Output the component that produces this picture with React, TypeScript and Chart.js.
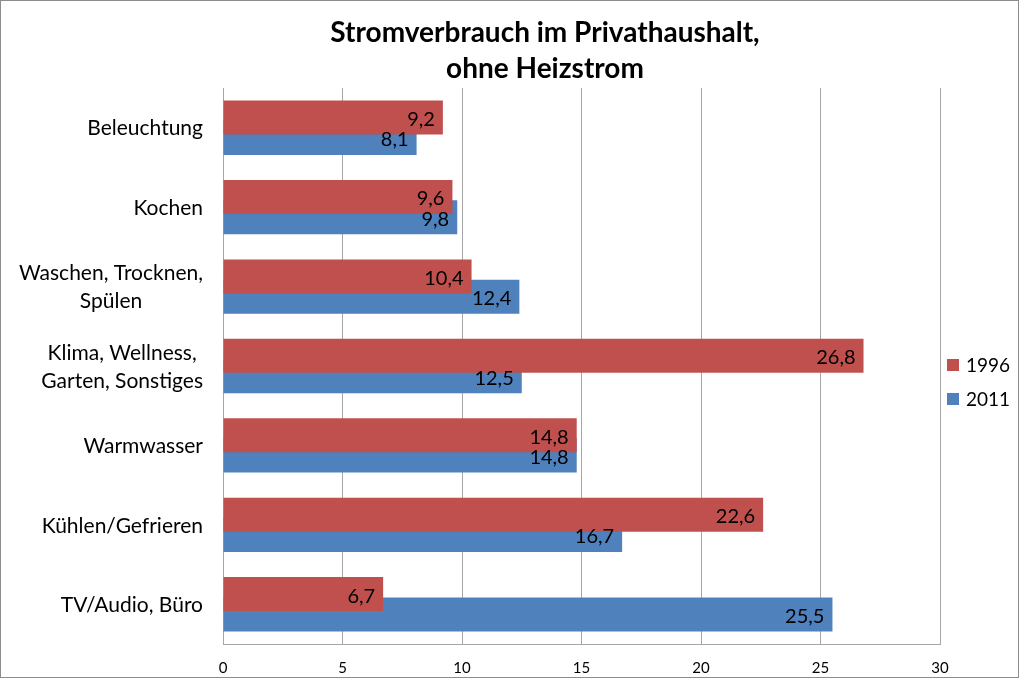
import { useEffect, useRef } from 'react';
import { Chart, registerables } from 'chart.js';
Chart.register(...registerables);

const categories: string[][] = [
  ['Beleuchtung'],
  ['Kochen'],
  ['Waschen, Trocknen,', 'Spülen'],
  ['Klima, Wellness,', 'Garten, Sonstiges'],
  ['Warmwasser'],
  ['Kühlen/Gefrieren'],
  ['TV/Audio, Büro'],
];
const values1996 = [9.2, 9.6, 10.4, 26.8, 14.8, 22.6, 6.7];
const values2011 = [8.1, 9.8, 12.4, 12.5, 14.8, 16.7, 25.5];
const seriesNames = ['1996', '2011'];
const seriesColors = ['#C0504D', '#4F81BD'];
const titleLines = ['Stromverbrauch im Privathaushalt,', 'ohne Heizstrom'];
const xMin = 0;
const xMax = 30;
const xStep = 5;

const FONT = 'Lato, "Noto Sans", sans-serif';
const OFFSET = 0.128;

const fmt = (v: number) => v.toFixed(1).replace('.', ',');

const customPlugin = {
  id: 'custom',
  beforeDraw(chart: any) {
    const ctx = chart.ctx;
    ctx.save();
    ctx.fillStyle = '#ffffff';
    ctx.fillRect(0, 0, chart.width, chart.height);
    ctx.strokeStyle = '#8c8c8c';
    ctx.lineWidth = 1;
    ctx.strokeRect(0.5, 0.5, 1018, 677);
    ctx.restore();
  },
  afterDatasetsDraw(chart: any) {
    const ctx = chart.ctx;
    ctx.save();
    ctx.font = `20px ${FONT}`;
    ctx.fillStyle = '#000';
    ctx.textAlign = 'right';
    ctx.textBaseline = 'middle';
    chart.data.datasets.forEach((ds: any, di: number) => {
      const meta = chart.getDatasetMeta(di);
      meta.data.forEach((el: any, i: number) => {
        ctx.fillText(fmt(ds.data[i].x), el.x - 8, el.y + 2);
      });
    });
    ctx.restore();
  },
  afterDraw(chart: any) {
    const ctx = chart.ctx;
    const yScale = chart.scales.y;
    ctx.save();
    // title
    ctx.fillStyle = '#000';
    ctx.font = `bold 28px ${FONT}`;
    ctx.textAlign = 'center';
    ctx.textBaseline = 'middle';
    titleLines.forEach((t, i) => ctx.fillText(t, 545, 33 + i * 36));
    // category labels
    ctx.font = `21px ${FONT}`;
    const right = 203;
    const lh = 28;
    categories.forEach((lines, i) => {
      const cy = yScale.getPixelForValue(i);
      const maxW = Math.max(...lines.map((l) => ctx.measureText(l).width));
      const cx = right - maxW / 2;
      const y0 = cy - ((lines.length - 1) * lh) / 2;
      lines.forEach((l, j) => ctx.fillText(l, cx, y0 + j * lh + 1));
    });
    // legend
    ctx.font = `19px ${FONT}`;
    ctx.textAlign = 'left';
    seriesNames.forEach((n, i) => {
      const y = 365 + i * 34;
      ctx.fillStyle = seriesColors[i];
      ctx.fillRect(947, y - 6, 12, 12);
      ctx.fillStyle = '#000';
      ctx.fillText(n, 966, y + 1);
    });
    ctx.restore();
  },
};

export default function App() {
  const ref = useRef<HTMLCanvasElement | null>(null);
  useEffect(() => {
    document.body.style.margin = '0';
    const canvas = ref.current!;
    const chart = new Chart(canvas, {
      type: 'bar',
      data: {
        datasets: [
          {
            label: seriesNames[0],
            data: values1996.map((v, i) => ({ x: v, y: i - OFFSET })),
            backgroundColor: seriesColors[0],
          },
          {
            label: seriesNames[1],
            data: values2011.map((v, i) => ({ x: v, y: i + OFFSET })),
            backgroundColor: seriesColors[1],
          },
        ] as any,
      },
      options: {
        indexAxis: 'y',
        responsive: false,
        animation: false,
        devicePixelRatio: 1,
        layout: { padding: { top: 88, right: 84, left: 0, bottom: 0 } },
        datasets: {
          bar: {
            grouped: false,
            barPercentage: 10,
            categoryPercentage: 1,
            maxBarThickness: 34,
          } as any,
        },
        plugins: {
          legend: { display: false },
          title: { display: false },
          tooltip: { enabled: false },
        },
        scales: {
          x: {
            type: 'linear',
            min: xMin,
            max: xMax,
            ticks: {
              stepSize: xStep,
              font: { family: FONT, size: 15 },
              color: '#000',
              padding: 15,
              callback: (v: any) => String(v),
            },
            grid: { color: '#a6a6a6', drawTicks: false },
            border: { display: true, color: '#a6a6a6' },
            afterFit: (scale: any) => {
              scale.height = 35;
            },
          },
          y: {
            type: 'linear',
            min: -0.5,
            max: 6.5,
            reverse: true,
            offset: false,
            ticks: { display: false },
            grid: { display: false, offset: false },
            border: { display: true, color: '#a6a6a6' },
            afterFit: (scale: any) => {
              scale.width = 223;
            },
          },
        },
      },
      plugins: [customPlugin],
    });
    return () => chart.destroy();
  }, []);
  return (
    <div style={{ width: 1024, height: 679 }}>
      <canvas ref={ref} width={1024} height={679} />
    </div>
  );
}
